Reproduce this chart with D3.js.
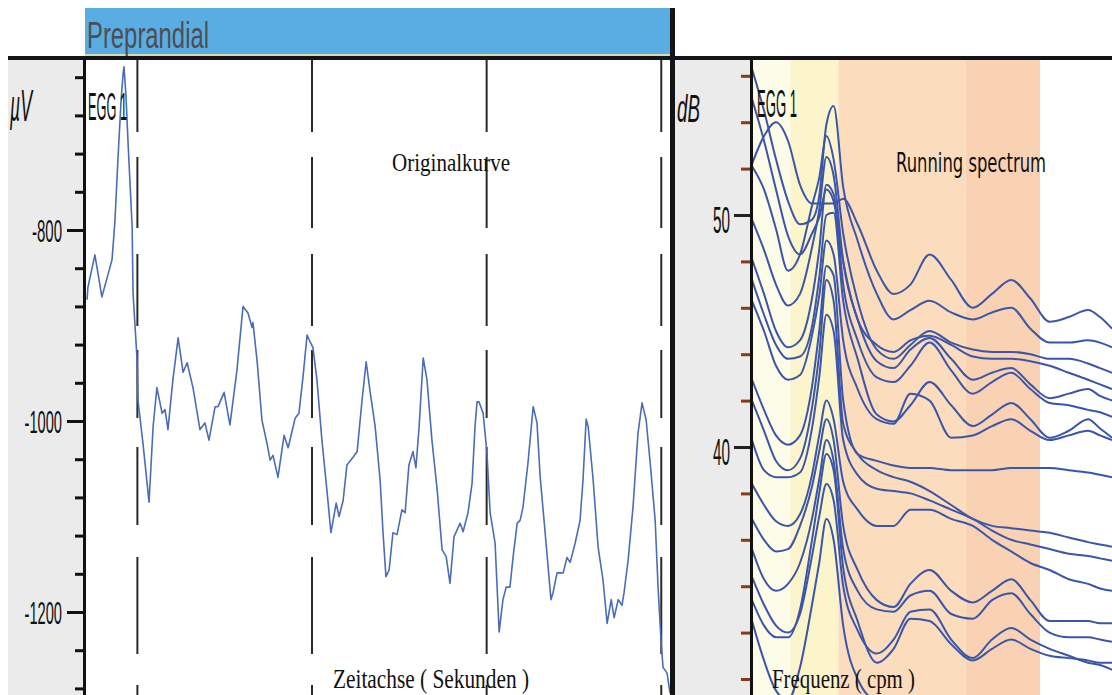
<!DOCTYPE html>
<html>
<head>
<meta charset="utf-8">
<script src="https://cdn.jsdelivr.net/npm/d3@7"></script>
<style>
  body { margin: 0; background: #fff; }
  svg { display: block; }
</style>
</head>
<body>
<div id="chart"></div>
<script>
// EGG raw trace (time in s, amplitude in µV)
const egTime = [42.7, 43.0, 45.4, 47.8, 51.3, 52.3, 53.3, 54.4, 55.1, 55.4, 56.1, 56.8, 58.2, 58.5, 59.9, 60.2,
  61.9, 64.0, 65.4, 66.7, 68.5, 69.5, 70.5, 72.2, 74.0, 75.7, 77.1, 79.1, 81.5, 83.2, 84.6, 86.7, 87.7, 89.8,
  91.8, 94.2, 96.3, 98.0, 99.4, 99.7, 101.1, 102.8, 104.5, 105.6, 106.6, 108.3, 110.4, 111.8, 114.2, 115.5,
  116.9, 118.3, 119.3, 120.3, 121.7, 123.4, 125.2, 126.5, 128.3, 129.3, 130.7, 132.0, 134.1, 135.5, 137.2,
  138.6, 139.9, 141.7, 143.4, 144.4, 145.4, 146.5, 147.8, 149.2, 150.9, 152.0, 153.3, 154.7, 155.7, 156.8,
  158.2, 159.5, 161.2, 163.0, 164.7, 166.1, 167.4, 168.8, 170.9, 171.9, 173.6, 175.0, 176.0, 176.7, 177.4,
  178.8, 180.1, 181.2, 182.9, 184.3, 185.6, 186.7, 188.0, 189.1, 190.5, 191.5, 192.5, 194.2, 196.0, 197.3,
  198.4, 200.1, 202.1, 202.8, 204.2, 206.3, 207.6, 208.7, 210.4, 212.1, 213.1, 214.2, 214.9, 216.6, 218.3,
  220.0, 221.4, 222.8, 223.8, 225.2, 226.5, 227.2, 228.6, 230.3, 232.0, 233.4, 234.8, 236.2, 237.9, 238.9,
  239.9, 240.6, 242.0, 243.0];
const egValue = [-873, -860, -826, -870, -831, -790, -727, -664, -636, -629, -661, -709, -797, -866, -936, -978,
  -1023, -1085, -1006, -965, -992, -988, -1009, -957, -913, -949, -939, -965, -1009, -1002, -1020, -985, -985, -970,
  -1004, -947, -880, -887, -902, -897, -936, -999, -1023, -1041, -1036, -1059, -1015, -1028, -997, -992,
  -954, -910, -917, -923, -957, -1020, -1075, -1117, -1086, -1100, -1083, -1046, -1038, -1032, -978,
  -938, -968, -1006, -1062, -1117, -1163, -1156, -1117, -1119, -1093, -1096, -1046, -1032, -1049, -1006,
  -934, -957, -1020, -1072, -1135, -1142, -1170, -1121, -1107, -1116, -1096, -1065, -1006, -980, -980,
  -992, -1033, -1096, -1128, -1221, -1187, -1174, -1174, -1142, -1107, -1104, -1090, -1044, -985, -1002,
  -1059, -1117, -1187, -1180, -1159, -1159, -1143, -1148, -1128, -1104, -1062, -998, -1006, -1062, -1132,
  -1167, -1212, -1187, -1206, -1187, -1193, -1180, -1146, -1090, -1013, -981, -999, -1044, -1104, -1174,
  -1229, -1258, -1264, -1285];
const uvTicks = [-1280, -1240, -1200, -1160, -1120, -1080, -1040, -1000, -960, -920, -880, -840, -800, -760, -720, -680, -640];
const uvLabels = [-800, -1000, -1200];
const timeMarks = [60, 120, 180, 240];

// running spectrum (frequency in cpm, power in dB)
const freqGrid = [0, 0.5, 1, 1.5, 2, 2.5, 2.8, 3.1, 3.4, 3.8, 4.4, 5.2, 5.9, 6.6, 7.4, 8.3, 9.2, 10, 10.8, 11.6, 12.4, 13.2, 14, 14.5, 15];
const spectra = [
  [52.2, 53.4, 54.0, 53.2, 51.3, 50.5, 50.5, 50.5, 50.5, 50.7, 49.6, 47.6, 46.6, 47.0, 48.3, 47.2, 46.0, 46.6, 47.2, 46.4, 45.4, 45.6, 45.9, 45.6, 45.1],
  [56.3, 54.5, 52.4, 50.6, 49.6, 49.8, 50.8, 53.9, 54.7, 51.2, 48.9, 46.6, 45.5, 45.9, 46.3, 45.8, 45.5, 45.8, 46.0, 45.1, 44.5, 44.5, 44.6, 44.5, 44.3],
  [55.0, 53.2, 51.1, 49.1, 48.3, 49.2, 49.9, 51.1, 50.6, 48.0, 45.5, 44.4, 44.1, 44.6, 44.8, 44.4, 43.9, 43.8, 43.8, 43.7, 43.5, 43.2, 42.9, 42.7, 42.5],
  [52.1, 51.1, 49.4, 47.6, 48.3, 50.4, 51.6, 53.4, 52.4, 49.2, 46.3, 44.2, 43.8, 44.4, 45.0, 44.5, 44.2, 44.1, 44.1, 44.0, 43.8, 43.8, 43.6, 43.4, 43.2],
  [49.8, 48.5, 47.0, 46.1, 46.6, 48.6, 50.2, 52.5, 51.7, 48.0, 45.5, 43.7, 43.4, 44.2, 44.7, 43.8, 42.9, 43.2, 43.4, 42.7, 42.1, 42.3, 42.5, 42.2, 42.0],
  [48.1, 46.6, 45.0, 44.3, 44.6, 46.4, 48.5, 51.3, 50.9, 47.0, 44.6, 43.0, 42.8, 43.5, 44.5, 43.3, 42.3, 42.8, 43.2, 42.5, 41.9, 41.8, 41.6, 41.5, 41.3],
  [47.2, 45.7, 44.4, 43.8, 43.9, 45.2, 47.3, 50.0, 50.1, 46.3, 43.8, 41.4, 41.1, 41.8, 42.8, 41.8, 40.9, 41.4, 41.9, 41.2, 40.4, 40.7, 41.2, 40.8, 40.4],
  [46.3, 45.0, 43.5, 42.9, 43.1, 44.8, 46.5, 48.9, 48.3, 44.6, 42.5, 41.2, 41.0, 42.3, 42.0, 40.4, 40.5, 40.9, 41.2, 40.7, 40.3, 40.5, 40.7, 40.5, 40.3],
  [42.9, 41.6, 40.5, 40.1, 40.5, 42.6, 45.0, 47.8, 47.4, 42.0, 39.7, 39.4, 39.2, 39.1, 39.1, 39.0, 39.0, 39.0, 39.1, 39.1, 39.1, 39.0, 38.9, 38.8, 38.7],
  [42.0, 40.7, 39.4, 39.0, 39.5, 41.7, 44.0, 47.2, 46.3, 41.0, 39.7, 39.0, 38.7, 38.5, 38.1, 37.5, 36.9, 36.6, 36.5, 36.4, 36.3, 36.1, 35.9, 35.8, 35.7],
  [40.3, 39.0, 38.7, 38.7, 38.9, 40.8, 43.0, 45.7, 45.0, 40.3, 38.8, 38.2, 38.1, 38.0, 37.7, 37.3, 36.9, 36.4, 36.0, 35.8, 35.6, 35.4, 35.3, 35.2, 35.1],
  [38.4, 37.5, 36.8, 36.6, 37.1, 38.8, 40.5, 42.0, 41.2, 38.5, 37.3, 36.6, 36.6, 37.3, 37.3, 36.9, 36.6, 36.0, 35.5, 35.0, 34.7, 34.3, 34.1, 33.9, 33.8],
  [36.9, 36.0, 35.5, 35.6, 36.6, 38.3, 39.8, 41.2, 40.3, 36.6, 34.7, 33.4, 33.1, 34.1, 34.7, 33.8, 33.3, 33.8, 34.3, 33.4, 32.5, 32.5, 32.5, 32.4, 32.4],
  [35.6, 34.3, 33.8, 34.1, 35.0, 36.9, 38.6, 40.3, 39.4, 35.6, 33.8, 33.0, 32.9, 33.6, 33.8, 32.8, 32.6, 33.4, 33.7, 32.8, 32.0, 31.8, 31.8, 31.7, 31.6],
  [34.4, 33.2, 32.3, 32.0, 32.8, 35.3, 37.0, 38.4, 37.7, 34.0, 32.1, 31.1, 31.7, 32.9, 33.0, 31.7, 30.9, 31.7, 32.2, 31.7, 31.3, 31.0, 30.7, 30.6, 30.4],
  [33.4, 32.3, 31.8, 31.8, 33.0, 36.0, 38.0, 39.7, 39.0, 34.8, 32.5, 30.7, 31.3, 32.6, 32.5, 31.5, 30.8, 31.3, 31.7, 31.3, 31.0, 30.9, 30.8, 30.7, 30.7],
  [32.5, 30.8, 29.5, 29.1, 30.5, 33.2, 35.0, 36.9, 36.0, 32.3, 30.0, 29.1, 29.1, 29.0, 29.0, 29.0, 29.0, 29.0, 29.0, 29.0, 29.0, 29.0, 29.0, 29.0, 29.0]
];
const dbTicks = [30, 32, 34, 36, 38, 40, 42, 44, 46, 48, 50, 52, 54, 56];
const dbLabels = [50, 40];
const bandEdges = [0, 1.6, 3.6, 8.9, 12];
const bandColors = ['#fdfce9', '#fcf5cb', '#fbdcbc', '#f9d2b4'];

const W = 1112, H = 695;
const svg = d3.select('#chart').append('svg')
  .attr('width', W)
  .attr('height', H);

const xT = d3.scaleLinear().domain([42, 243]).range([85, 670]);
const yV = d3.scaleLinear().domain([-1200, -800]).range([612, 230]);
const xF = d3.scaleLinear().domain([0, 15]).range([752, 1112]);
const yD = d3.scaleLinear().domain([40, 50]).range([447, 215]);

function label(txt, x, y, size, len, family, extra) {
  const t = svg.append('text')
    .attr('x', x)
    .attr('y', y)
    .attr('font-family', family)
    .attr('font-size', size)
    .attr('fill', '#111')
    .attr('textLength', len)
    .attr('lengthAdjust', 'spacingAndGlyphs')
    .text(txt);
  if (extra) extra(t);
  return t;
}

const defs = svg.append('defs');
defs.append('clipPath').attr('id', 'clipL')
  .append('rect').attr('x', 86).attr('y', 60).attr('width', 584).attr('height', 635);
defs.append('clipPath').attr('id', 'clipR')
  .append('rect').attr('x', 753).attr('y', 60).attr('width', 359).attr('height', 635);

// header
svg.append('rect').attr('x', 85).attr('y', 8).attr('width', 585).attr('height', 47).attr('fill', '#5aade2');
svg.append('rect').attr('x', 85).attr('y', 54).attr('width', 585).attr('height', 2).attr('fill', '#dcdcb0');
label('Preprandial', 87, 48, 36, 122, 'Liberation Sans, Arial, sans-serif', t => t.attr('fill', '#4d4d52'));
svg.append('rect').attr('x', 8).attr('y', 56).attr('width', W - 8).attr('height', 4).attr('fill', '#141418');

// grey axis panels
svg.append('rect').attr('x', 8).attr('y', 60).attr('width', 75).attr('height', H - 60).attr('fill', '#ebebeb');
svg.append('rect').attr('x', 675).attr('y', 60).attr('width', 75).attr('height', H - 60).attr('fill', '#ebebeb');

// spectrum frequency bands
svg.append('g').selectAll('rect')
  .data(bandColors)
  .join('rect')
  .attr('x', (d, i) => xF(bandEdges[i]))
  .attr('y', 60)
  .attr('width', (d, i) => xF(bandEdges[i + 1]) - xF(bandEdges[i]))
  .attr('height', H - 60)
  .attr('fill', d => d);

// left: time markers
svg.append('g').selectAll('line')
  .data(timeMarks)
  .join('line')
  .attr('x1', d => xT(d)).attr('x2', d => xT(d))
  .attr('y1', 60).attr('y2', H)
  .attr('stroke', '#2a2a2a')
  .attr('stroke-width', 2)
  .attr('stroke-dasharray', '72,25,71,26,72,24,68,29,78,32,97,31,20');

// left: original EGG trace
const egLine = d3.line()
  .x((d, i) => xT(egTime[i]))
  .y(d => yV(d));
svg.append('path')
  .datum(egValue)
  .attr('clip-path', 'url(#clipL)')
  .attr('fill', 'none')
  .attr('stroke', '#4a6db6')
  .attr('stroke-width', 1.6)
  .attr('stroke-linejoin', 'round')
  .attr('d', egLine);

// right: running spectrum
const specLine = d3.line()
  .x((d, i) => xF(freqGrid[i]))
  .y(d => yD(d))
  .curve(d3.curveMonotoneX);
svg.append('g')
  .attr('clip-path', 'url(#clipR)')
  .selectAll('path')
  .data(spectra)
  .join('path')
  .attr('fill', 'none')
  .attr('stroke', '#3b55a8')
  .attr('stroke-width', 2)
  .attr('d', specLine);

// left axis ticks
const axL = svg.append('g').attr('transform', 'translate(83,0)')
  .call(d3.axisLeft(yV).tickValues(uvTicks).tickSize(8).tickFormat(''));
const axL2 = svg.append('g').attr('transform', 'translate(83,0)')
  .call(d3.axisLeft(yV).tickValues(uvLabels).tickSize(16).tickFormat(''));
[axL, axL2].forEach(a => {
  a.select('.domain').remove();
  a.selectAll('line').attr('stroke', '#111').attr('stroke-width', 3);
});
uvLabels.forEach(v => {
  const s = String(v);
  label(s, 62 - s.length * 7.5, yV(v) + 12, 32, s.length * 7.5, 'Liberation Sans, Arial, sans-serif');
});
label('µV', 10, 121, 44, 22, 'Liberation Sans, Arial, sans-serif', t => t.attr('font-style', 'italic'));

// right axis ticks
const axR = svg.append('g').attr('transform', 'translate(750,0)')
  .call(d3.axisLeft(yD).tickValues(dbTicks).tickSize(9).tickFormat(''));
axR.select('.domain').remove();
axR.selectAll('line').attr('stroke', '#8a3a14').attr('stroke-width', 3);
const axR2 = svg.append('g').attr('transform', 'translate(750,0)')
  .call(d3.axisLeft(yD).tickValues(dbLabels).tickSize(16).tickFormat(''));
axR2.select('.domain').remove();
axR2.selectAll('line').attr('stroke', '#222').attr('stroke-width', 3);
dbLabels.forEach(v => {
  label(String(v), 713, yD(v) + 18, 36, 17, 'Liberation Sans, Arial, sans-serif');
});
label('dB', 677, 122, 38, 23, 'Liberation Sans, Arial, sans-serif', t => t.attr('font-style', 'italic'));

// frame lines
svg.append('rect').attr('x', 83).attr('y', 60).attr('width', 3).attr('height', H - 60).attr('fill', '#111');
svg.append('rect').attr('x', 750).attr('y', 60).attr('width', 3).attr('height', H - 60).attr('fill', '#111');
svg.append('rect').attr('x', 670).attr('y', 8).attr('width', 5).attr('height', H - 8).attr('fill', '#141418');

// panel texts
label('EGG 1', 88, 120, 38, 39, 'Liberation Sans, Arial, sans-serif');
label('EGG 1', 757, 117, 38, 40, 'Liberation Sans, Arial, sans-serif');
label('Originalkurve', 392, 171, 25, 118, 'Liberation Serif, Times New Roman, serif');
label('Running spectrum', 896, 172, 26, 150, 'DejaVu Sans, sans-serif');
label('Zeitachse ( Sekunden )', 333, 688, 27, 196, 'Liberation Serif, Times New Roman, serif');
label('Frequenz ( cpm )', 772, 688, 27, 143, 'Liberation Serif, Times New Roman, serif');
</script>
</body>
</html>
